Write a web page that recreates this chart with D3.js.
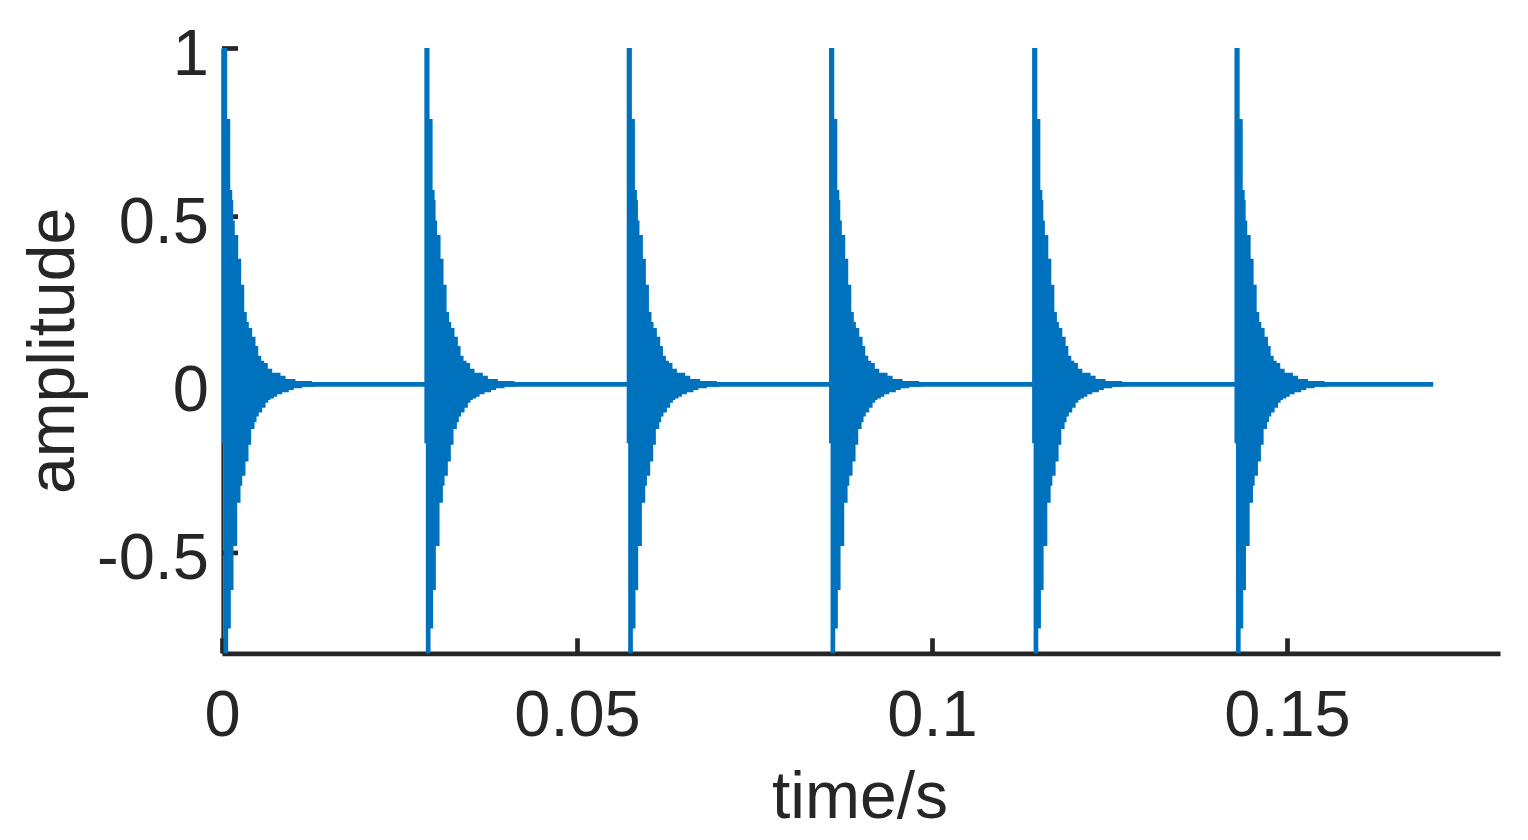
<!DOCTYPE html>
<html>
<head>
<meta charset="utf-8">
<script src="https://cdn.jsdelivr.net/npm/d3@7"></script>
<style>
body { margin: 0; background: #fff; }
text { font-family: "Liberation Sans", Arial, sans-serif; fill: #262626; }
</style>
</head>
<body>
<svg width="1528" height="840"></svg>
<script>

// onset of each decaying burst (s)
var pulseStarts = [0, 0.0285, 0.0570, 0.0855, 0.1141, 0.1426];
var signalEnd = 0.1706;

// envelope of one burst: offset from onset in ms, amplitude
var upperOffsets = [0, 0.73, 1.16, 1.44, 1.58, 1.80, 2.28, 2.70, 3.13, 3.49, 3.78, 4.25, 4.72, 5.10, 5.52, 5.94, 6.45, 7.07, 8.24, 8.95, 10.35, 12.7];
var upperValues  = [1.0, 0.789, 0.578, 0.548, 0.487, 0.444, 0.373, 0.296, 0.215, 0.185, 0.167, 0.141, 0.114, 0.085, 0.070, 0.063, 0.046, 0.034, 0.025, 0.016, 0.010, 0.007];
var lowerOffsets = [0, 0.21, 0.87, 1.24, 1.62, 2.14, 2.61, 2.85, 3.31, 3.73, 4.11, 4.58, 4.86, 5.18, 5.66, 6.13, 6.51, 6.83, 7.30, 7.78, 8.48, 9.41, 10.11, 11.30, 13.0];
var lowerValues  = [-0.175, -0.8, -0.726, -0.612, -0.481, -0.352, -0.302, -0.272, -0.230, -0.180, -0.133, -0.113, -0.096, -0.084, -0.070, -0.055, -0.047, -0.042, -0.037, -0.030, -0.024, -0.017, -0.012, -0.007, -0.007];

var xTicks = [0, 0.05, 0.1, 0.15];
var xTickLabels = ["0", "0.05", "0.1", "0.15"];
var yTicks = [-0.5, 0, 0.5, 1];
var yTickLabels = ["-0.5", "0", "0.5", "1"];

var svg = d3.select("svg");

var x = d3.scaleLinear()
    .domain([0, 0.18])
    .range([222, 1500]);

var y = d3.scaleLinear()
    .domain([-0.8, 1])
    .range([653.3, 48]);

var blue = "#0072BD";
var axisColor = "#262626";

// axes
var gx = svg.append("g")
    .attr("transform", "translate(0," + y(-0.8) + ")")
    .call(d3.axisBottom(x).tickValues(xTicks).tickSizeInner(-15).tickSizeOuter(0)
        .tickFormat(function(d, i) { return xTickLabels[i]; }));

gx.select(".domain").attr("stroke", axisColor).attr("stroke-width", 4.7);
gx.selectAll(".tick line").attr("stroke", axisColor).attr("stroke-width", 4.7);
gx.selectAll(".tick text")
    .attr("y", 82.5)
    .attr("dy", 0)
    .attr("font-size", 65)
    .attr("fill", axisColor);

var gy = svg.append("g")
    .attr("transform", "translate(" + x(0) + ",0)")
    .call(d3.axisLeft(y).tickValues(yTicks).tickSizeInner(-16).tickSizeOuter(0)
        .tickFormat(function(d, i) { return yTickLabels[i]; }));

gy.select(".domain").attr("stroke", axisColor).attr("stroke-width", 2.2);
gy.selectAll(".tick line").attr("stroke", axisColor).attr("stroke-width", 4.7);
gy.selectAll(".tick text")
    .attr("x", -13)
    .attr("dy", 26)
    .attr("font-size", 65)
    .attr("fill", axisColor);

svg.selectAll(".tick text, .domain").attr("font-family", null);

// data: settled baseline plus the burst envelopes
var data = svg.append("g");

data.append("line")
    .attr("x1", x(0))
    .attr("x2", x(signalEnd))
    .attr("y1", y(0))
    .attr("y2", y(0))
    .attr("stroke", blue)
    .attr("stroke-width", 4.7);

var upperArea = function(start) {
    return d3.area()
        .x(function(d, i) { return x(start + upperOffsets[i] / 1000); })
        .y0(y(0))
        .y1(function(d) { return y(d); })
        .curve(d3.curveStepAfter);
};
var lowerArea = function(start) {
    return d3.area()
        .x(function(d, i) { return x(start + lowerOffsets[i] / 1000); })
        .y0(y(0))
        .y1(function(d) { return y(d); })
        .curve(d3.curveStepAfter);
};

pulseStarts.forEach(function(s) {
    data.append("path")
        .datum(upperValues)
        .attr("fill", blue)
        .attr("d", upperArea(s));
    data.append("path")
        .datum(lowerValues)
        .attr("fill", blue)
        .attr("d", lowerArea(s));
});

// axis labels
svg.append("text")
    .attr("x", 860)
    .attr("y", 818)
    .attr("text-anchor", "middle")
    .attr("font-size", 66)
    .text("time/s");

svg.append("text")
    .attr("transform", "translate(74,351) rotate(-90)")
    .attr("text-anchor", "middle")
    .attr("font-size", 66)
    .text("amplitude");

</script>
</body>
</html>
